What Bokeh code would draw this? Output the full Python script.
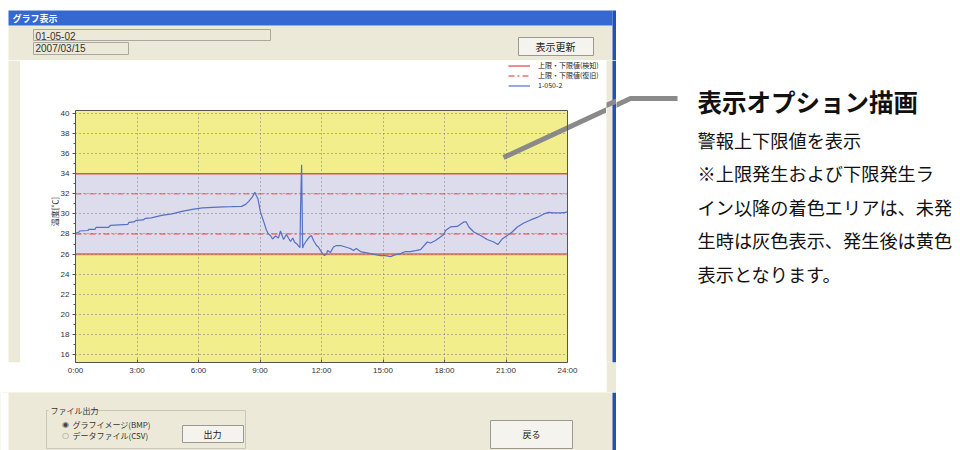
from bokeh.plotting import figure
from bokeh.models import (BoxAnnotation, Label, Legend, LegendItem, FixedTicker, Range1d)
from bokeh.layouts import row, column
from bokeh.embed import file_html
from bokeh.resources import INLINE

# ---------------- data ----------------
HOURS = [0.00, 0.15, 0.20, 0.60, 0.65, 0.95, 1.00, 1.60, 1.70, 2.55, 2.60, 2.85, 2.95,
         3.30, 3.40, 3.70, 4.20, 4.70, 5.20, 5.70, 6.20, 6.70, 7.20, 7.60, 8.10, 8.30,
         8.45, 8.63, 8.75, 8.80, 8.90, 9.02, 9.17, 9.31, 9.41, 9.51, 9.61, 9.76, 9.90,
         10.00, 10.15, 10.29, 10.40, 10.49, 10.60, 10.68, 10.83, 10.95, 10.98, 11.03,
         11.08, 11.12, 11.27, 11.41, 11.51, 11.61, 11.76, 11.85, 11.95, 12.05, 12.15,
         12.25, 12.30, 12.44, 12.58, 12.73, 12.93, 13.17, 13.41, 13.56, 13.70, 13.90,
         14.15, 14.39, 14.63, 14.88, 15.12, 15.37, 15.61, 15.85, 16.10, 16.34, 16.59,
         16.83, 17.16, 17.32, 17.56, 17.80, 17.97, 18.05, 18.29, 18.62, 18.94, 19.06,
         19.19, 19.43, 19.76, 20.08, 20.40, 20.60, 20.81, 21.06, 21.30, 21.55, 21.87,
         22.20, 22.52, 22.84, 23.09, 23.33, 23.66, 23.90, 24.00]
TEMPS = [28.10, 28.15, 28.30, 28.35, 28.45, 28.45, 28.65, 28.65, 28.85, 28.95, 29.15, 29.20, 29.35,
         29.40, 29.55, 29.60, 29.85, 30.00, 30.25, 30.45, 30.60, 30.65, 30.70, 30.72, 30.75, 30.95,
         31.25, 31.70, 32.15, 31.90, 31.50, 30.20, 29.30, 28.40, 28.00, 27.85, 27.50, 27.80, 27.60,
         28.30, 27.45, 27.95, 27.55, 27.25, 27.60, 27.20, 26.95, 26.65, 30.70, 34.90,
         26.60, 26.85, 27.35, 27.70, 27.85, 27.35, 26.85, 26.70, 26.35, 26.05, 25.85,
         26.05, 26.35, 26.15, 26.70, 26.85, 26.85, 26.70, 26.55, 26.35, 26.55, 26.25,
         26.15, 26.05, 25.95, 25.85, 25.85, 25.75, 25.95, 26.05, 26.25, 26.25, 26.35,
         26.45, 27.20, 27.10, 27.35, 27.70, 27.95, 28.35, 28.70, 28.75, 29.20, 29.20,
         28.70, 28.20, 27.85, 27.45, 27.20, 26.95, 27.50, 27.85, 28.20, 28.70, 29.10,
         29.40, 29.65, 30.00, 30.15, 30.10, 30.10, 30.15, 30.20]
DETECT_LIMITS = [34, 26]      # 上限・下限値(検知)
RESTORE_LIMITS = [32, 28]     # 上限・下限値(復旧)
X_TICKS = [0, 3, 6, 9, 12, 15, 18, 21, 24]
X_TICK_LABELS = ["0:00", "3:00", "6:00", "9:00", "12:00", "15:00", "18:00", "21:00", "24:00"]
Y_TICKS = [16, 18, 20, 22, 24, 26, 28, 30, 32, 34, 36, 38, 40]
Y_MINOR = list(range(16, 41))
LEGEND_LABELS = ["上限・下限値(検知)", "上限・下限値(復旧)", "1-050-2"]
Y_LABEL = "温度[℃]"
WINDOW_TITLE = "グラフ表示"
FIELD_TEXTS = ["01-05-02", "2007/03/15"]
NOTE_TITLE = "表示オプション描画"
NOTE_LINES = ["警報上下限値を表示", "※上限発生および下限発生ラ", "イン以降の着色エリアは、未発",
              "生時は灰色表示、発生後は黄色", "表示となります。"]

JP = "Noto Sans CJK JP"
BEIGE = "#ece9d8"
BLUE_BORDER = "#2450b8"
LEADER_PX = [503, 630, 677]
LEADER_PY = [157, 98, 98]

# plot-area geometry (pixels in the page) and value window
PLOT_Y_MIN, PLOT_Y_MAX = 15.2, 40.3
CH_X0, CH_Y0, CH_W, CH_H = 20, 60, 586, 332
FRAME_L, FRAME_R, FRAME_T, FRAME_B = 75, 567, 110, 362


def chrome_fig(x0, y0, w, h, bg):
    f = figure(width=w, height=h, x_range=Range1d(x0, x0 + w), y_range=Range1d(y0 + h, y0),
               min_border=0, toolbar_location=None, output_backend="svg",
               x_axis_location=None, y_axis_location=None,
               background_fill_color=bg, border_fill_color=bg, outline_line_color=None)
    f.grid.visible = False
    return f


def rect(f, l, t, r, b, fill, line=None):
    f.add_layout(BoxAnnotation(left=l, right=r, top=t, bottom=b, fill_color=fill, fill_alpha=1,
                               line_color=line if line else fill, line_alpha=1 if line else 0,
                               line_width=1, level="underlay"))


def text(f, x, y, s, size="9px", color="#222222", font=JP, align="left", style="normal"):
    f.add_layout(Label(x=x, y=y, text=s, text_font_size=size, text_color=color, text_font=font,
                       text_align=align, text_baseline="middle", text_font_style=style,
                       level="overlay"))


# ---------- top chrome ----------
top = chrome_fig(0, 0, 616, 60, "white")
rect(top, 8, 25, 612, 60, BEIGE)
rect(top, 8, 10, 612, 25, "#3568d0")
rect(top, 612, 10, 616, 60, BLUE_BORDER)
text(top, 12, 18, WINDOW_TITLE, size="9px", color="white", style="bold")
rect(top, 33, 29, 270, 40, BEIGE, "#a8a8a0")
rect(top, 33, 42, 128, 54, BEIGE, "#a8a8a0")
text(top, 35, 35, FIELD_TEXTS[0], size="10px", color="#333333", font="Liberation Sans")
text(top, 35, 48, FIELD_TEXTS[1], size="10px", color="#333333", font="Liberation Sans")
rect(top, 518, 37, 593, 55, "#f4f3ee", "#9c9a90")
text(top, 555, 46, "表示更新", size="10px", align="center")

# ---------- side strips ----------
left = chrome_fig(0, 60, 20, 332, "white")
rect(left, 8, 60, 20, 392, BEIGE)
right = chrome_fig(606, 60, 10, 332, BEIGE)
rect(right, 612, 60, 616, 392, BLUE_BORDER)
right.line(LEADER_PX, LEADER_PY, line_color="#8a8a8a", line_width=5)

# ---------- bottom chrome ----------
bottom = chrome_fig(0, 392, 616, 58, BEIGE)
rect(bottom, 0, 392, 8, 450, "white")
rect(bottom, 612, 392, 616, 450, BLUE_BORDER)
rect(bottom, 46, 410, 245, 448, BEIGE, "#c8c6bc")
rect(bottom, 48, 404, 88, 415, BEIGE)
text(bottom, 50, 410, "ファイル出力", size="8px", color="#333333")
text(bottom, 65, 424, "◉", size="8px", color="#444444", font="DejaVu Sans", align="center")
text(bottom, 65, 435, "○", size="8px", color="#888888", font="DejaVu Sans", align="center")
text(bottom, 72, 424, "グラフイメージ(BMP)", size="8px", color="#333333")
text(bottom, 72, 435, "データファイル(CSV)", size="8px", color="#333333")
rect(bottom, 182, 425, 243, 442, "#f4f3ee", "#9c9a90")
text(bottom, 212, 433.5, "出力", size="9px", align="center")
rect(bottom, 490, 420, 572, 448, "#f4f3ee", "#9c9a90")
text(bottom, 531, 434, "戻る", size="9px", align="center")

# ---------- right note ----------
note = chrome_fig(616, 0, 344, 450, "white")
note.line(LEADER_PX, LEADER_PY, line_color="#8a8a8a", line_width=5)
text(note, 697, 101, NOTE_TITLE, size="24.5px", color="#111111", style="bold")
for i, s in enumerate(NOTE_LINES):
    text(note, 697, 139 + i * 33.5, s, size="18.2px", color="#111111")

# ---------- chart ----------
px_h = (FRAME_R - FRAME_L) / (X_TICKS[-1] - X_TICKS[0])
px_v = (FRAME_B - FRAME_T) / (PLOT_Y_MAX - PLOT_Y_MIN)
x_end = X_TICKS[-1] + (CH_X0 + CH_W - FRAME_R) / px_h
y_top = PLOT_Y_MAX + (FRAME_T - CH_Y0) / px_v
p = figure(width=CH_W, height=CH_H, x_range=Range1d(X_TICKS[0], x_end),
           y_range=Range1d(PLOT_Y_MIN, y_top), output_backend="svg", toolbar_location=None,
           min_border_left=FRAME_L - CH_X0, min_border_right=0, min_border_top=0,
           min_border_bottom=CH_Y0 + CH_H - FRAME_B)
p.border_fill_color = "white"
p.background_fill_color = "white"
p.outline_line_color = None

p.add_layout(BoxAnnotation(left=X_TICKS[0], right=X_TICKS[-1], bottom=PLOT_Y_MIN, top=PLOT_Y_MAX,
                           level="underlay", fill_color="#f3ee8c", fill_alpha=1, line_alpha=0))
p.add_layout(BoxAnnotation(left=X_TICKS[0], right=X_TICKS[-1], bottom=DETECT_LIMITS[1],
                           top=DETECT_LIMITS[0], level="underlay",
                           fill_color="#dddcec", fill_alpha=1, line_alpha=0))

r_detect = p.segment(x0=X_TICKS[0], x1=X_TICKS[-1], y0=DETECT_LIMITS, y1=DETECT_LIMITS,
                     line_color=["#dd5555", "#ee8060"], line_width=[1.3, 2.2])
r_restore = p.segment(x0=X_TICKS[0], x1=X_TICKS[-1], y0=RESTORE_LIMITS, y1=RESTORE_LIMITS,
                      line_color="#e87272", line_width=1.3, line_dash="6 3 2 3")
r_data = p.line(HOURS, TEMPS, line_color="#5670c4", line_width=1.2)

# leader line of the note, placed in this figure's own scale
lead_x = [X_TICKS[0] + (px - FRAME_L) / px_h for px in LEADER_PX]
lead_y = [PLOT_Y_MAX - (py - FRAME_T) / px_v for py in LEADER_PY]
p.line(lead_x, lead_y, line_color="#8a8a8a", line_width=5)

# frame outline of the plot area
p.add_layout(BoxAnnotation(left=X_TICKS[0], right=X_TICKS[-1], bottom=PLOT_Y_MIN, top=PLOT_Y_MAX,
                           level="annotation", fill_alpha=0, line_color="#555555",
                           line_alpha=1, line_width=1))

for ax in (p.xaxis, p.yaxis):
    ax.axis_line_color = "#555555"
    ax.major_tick_line_color = "#555555"
    ax.minor_tick_line_color = "#555555"
    ax.major_label_text_font = "Liberation Sans"
    ax.major_label_text_font_size = "8px"
    ax.major_label_text_color = "#333333"
p.xaxis.major_tick_in = 3
p.xaxis.major_tick_out = 0
p.xaxis.major_label_standoff = 3
p.yaxis.major_tick_in = 0
p.yaxis.major_tick_out = 3
p.yaxis.minor_tick_in = 0
p.yaxis.minor_tick_out = 2
p.yaxis.major_label_standoff = 3
p.xaxis.bounds = (X_TICKS[0], X_TICKS[-1])
p.yaxis.bounds = (PLOT_Y_MIN, PLOT_Y_MAX)
p.xaxis.ticker = FixedTicker(ticks=X_TICKS)
p.xaxis.major_label_overrides = {t: s for t, s in zip(X_TICKS, X_TICK_LABELS)}
p.yaxis.ticker = FixedTicker(ticks=Y_TICKS, minor_ticks=Y_MINOR)
p.yaxis.axis_label = Y_LABEL
p.yaxis.axis_label_text_font = JP
p.yaxis.axis_label_text_font_size = "8px"
p.yaxis.axis_label_text_font_style = "normal"
p.yaxis.axis_label_text_color = "#333333"
p.yaxis.axis_label_standoff = -2

for g in (p.xgrid, p.ygrid):
    g.level = "glyph"
    g.grid_line_color = "#777777"
    g.grid_line_dash = "1 3"
    g.grid_line_width = 1
p.xgrid.cross_bounds = (PLOT_Y_MIN, PLOT_Y_MAX)
p.ygrid.cross_bounds = (X_TICKS[0], X_TICKS[-1])

legend = Legend(items=[LegendItem(label=LEGEND_LABELS[0], renderers=[r_detect], index=0),
                       LegendItem(label=LEGEND_LABELS[1], renderers=[r_restore], index=0),
                       LegendItem(label=LEGEND_LABELS[2], renderers=[r_data])],
                location=(433, FRAME_B - 90), orientation="vertical",
                background_fill_alpha=0, border_line_alpha=0, padding=0, margin=0, spacing=0,
                glyph_height=5, glyph_width=22, label_height=5, label_standoff=8,
                label_text_font_size="7px", label_text_font=JP, label_text_color="#222222",
                label_text_baseline="middle", label_text_line_height=0.9)
p.add_layout(legend, "center")

layout = row(column(top, row(left, p, right, spacing=0), bottom, spacing=0), note, spacing=0)
open("out.html", "w").write(file_html(layout, INLINE))
